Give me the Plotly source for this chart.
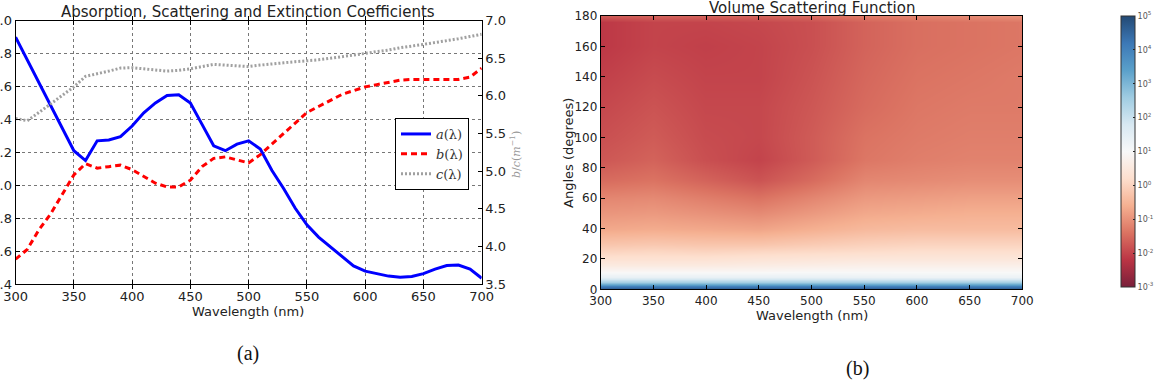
import plotly.graph_objects as go

W, H = 1160, 384

# ---------------- data: panel (a) ----------------
wavelength = [300, 310, 320, 330, 340, 350, 360, 370, 380, 390, 400, 410, 420, 430,
              440, 450, 460, 470, 480, 490, 500, 510, 520, 530, 540, 550, 560, 570,
              580, 590, 600, 610, 620, 630, 640, 650, 660, 670, 680, 690, 700]

a_wavelength = [300, 350, 360, 370, 380, 390, 400, 410, 420, 430, 440, 450, 460, 470,
                480, 490, 500, 510, 520, 530, 540, 550, 560, 570, 580, 590, 600, 610,
                620, 630, 640, 650, 660, 670, 680, 690, 700]
a_values = [1.90, 1.21, 1.15, 1.27, 1.275, 1.295, 1.36, 1.44, 1.50, 1.545, 1.55, 1.50,
            1.37, 1.24, 1.21, 1.25, 1.27, 1.22, 1.09, 0.98, 0.86, 0.76, 0.685, 0.625,
            0.565, 0.51, 0.478, 0.462, 0.448, 0.441, 0.446, 0.463, 0.49, 0.512, 0.515,
            0.49, 0.435]

b_values = [3.83, 3.96, 4.22, 4.43, 4.69, 4.95, 5.10, 5.04, 5.06, 5.08, 5.02, 4.93,
            4.84, 4.79, 4.79, 4.88, 5.06, 5.17, 5.19, 5.15, 5.11, 5.22, 5.36, 5.50,
            5.65, 5.78, 5.86, 5.94, 6.02, 6.07, 6.12, 6.15, 6.18, 6.21, 6.22, 6.22,
            6.21, 6.21, 6.22, 6.25, 6.37]

c_values = [5.70, 5.67, 5.78, 5.89, 6.01, 6.12, 6.26, 6.29, 6.33, 6.37, 6.375, 6.36,
            6.35, 6.33, 6.34, 6.36, 6.39, 6.42, 6.41, 6.395, 6.39, 6.41, 6.43, 6.44,
            6.455, 6.465, 6.48, 6.50, 6.52, 6.54, 6.565, 6.59, 6.61, 6.64, 6.66, 6.685,
            6.71, 6.73, 6.76, 6.79, 6.82]

series_names = ["<i>a</i>(λ)", "<i>b</i>(λ)", "<i>c</i>(λ)"]

x_ticks = [300, 350, 400, 450, 500, 550, 600, 650, 700]
left_yticks = [0.4, 0.6, 0.8, 1.0, 1.2, 1.4, 1.6, 1.8, 2.0]
right_yticks = [3.5, 4.0, 4.5, 5.0, 5.5, 6.0, 6.5, 7.0]

# ---------------- data: panel (b) ----------------
vsf_wavelength = [300, 350, 400, 450, 500, 550, 600, 650, 700]
vsf_angle = [0, 1, 2, 3, 5, 8, 12, 16, 20, 25, 30, 40, 50, 60, 72, 85, 100, 120, 140,
             160, 176, 180]
vsf_log10 = [
    [4.9, 4.9, 4.9, 4.9, 4.9, 4.9, 4.9, 4.9, 4.9],
    [4.5, 4.5, 4.5, 4.5, 4.5, 4.5, 4.5, 4.5, 4.5],
    [4.0, 4.0, 4.0, 4.0, 4.0, 4.0, 4.0, 4.0, 4.0],
    [3.5, 3.5, 3.5, 3.5, 3.5, 3.5, 3.5, 3.5, 3.5],
    [2.5, 2.5, 2.5, 2.5, 2.5, 2.5, 2.5, 2.5, 2.5],
    [1.4, 1.4, 1.4, 1.4, 1.4, 1.35, 1.3, 1.3, 1.3],
    [0.9, 0.9, 0.9, 0.9, 0.95, 0.95, 0.95, 0.95, 0.95],
    [0.55, 0.55, 0.55, 0.6, 0.65, 0.7, 0.7, 0.7, 0.7],
    [0.3, 0.3, 0.3, 0.35, 0.4, 0.45, 0.45, 0.45, 0.45],
    [0.0, 0.05, 0.0, 0.05, 0.1, 0.15, 0.2, 0.2, 0.2],
    [-0.25, -0.2, -0.25, -0.25, -0.15, -0.05, 0.0, 0.0, 0.0],
    [-0.7, -0.65, -0.7, -0.75, -0.6, -0.45, -0.4, -0.4, -0.4],
    [-0.95, -0.9, -1.0, -1.1, -0.9, -0.7, -0.65, -0.6, -0.6],
    [-1.15, -1.1, -1.25, -1.4, -1.15, -0.9, -0.85, -0.8, -0.8],
    [-1.5, -1.4, -1.6, -1.8, -1.5, -1.15, -1.1, -1.05, -1.05],
    [-1.75, -1.6, -1.85, -2.0, -1.7, -1.35, -1.25, -1.2, -1.2],
    [-1.85, -1.7, -1.9, -1.95, -1.7, -1.4, -1.3, -1.25, -1.25],
    [-1.95, -1.8, -1.95, -1.95, -1.75, -1.5, -1.35, -1.3, -1.3],
    [-2.05, -1.9, -2.0, -2.0, -1.8, -1.55, -1.4, -1.35, -1.3],
    [-2.15, -2.0, -2.05, -2.0, -1.85, -1.6, -1.45, -1.4, -1.35],
    [-2.15, -2.0, -2.0, -1.95, -1.85, -1.6, -1.45, -1.4, -1.35],
    [-1.7, -1.6, -1.6, -1.6, -1.5, -1.3, -1.2, -1.1, -1.0],
]
angle_ticks = [0, 20, 40, 60, 80, 100, 120, 140, 160, 180]
cb_tickvals = [-3, -2, -1, 0, 1, 2, 3, 4, 5]
cb_ticktext = ["10<sup>-3</sup>", "10<sup>-2</sup>", "10<sup>-1</sup>", "10<sup>0</sup>",
               "10<sup>1</sup>", "10<sup>2</sup>", "10<sup>3</sup>", "10<sup>4</sup>",
               "10<sup>5</sup>"]

rdbu_hex = ["#67001f", "#b2182b", "#d6604d", "#f4a582", "#fddbc7", "#f7f7f7",
            "#d1e5f0", "#92c5de", "#4393c3", "#2166ac", "#053061"]


def fade(hexcol, alpha=0.88):
    r, g, b = (int(hexcol[i:i + 2], 16) for i in (1, 3, 5))
    f = lambda c: round(alpha * c + (1 - alpha) * 255)
    return f"rgb({f(r)},{f(g)},{f(b)})"


colorscale = [[i / (len(rdbu_hex) - 1), fade(c)] for i, c in enumerate(rdbu_hex)]


def px(x):
    return x / W


def py(y):
    return 1 - y / H


FONT = "DejaVu Sans"
TXT = "#222"

fig = go.Figure()

fig.add_trace(go.Scatter(x=a_wavelength, y=a_values, name=series_names[0], mode="lines",
                         line=dict(color="#0000ff", width=3), xaxis="x", yaxis="y"))
fig.add_trace(go.Scatter(x=wavelength, y=b_values, name=series_names[1], mode="lines",
                         line=dict(color="#ff0000", width=3, dash="6px,4px"),
                         xaxis="x", yaxis="y2"))
fig.add_trace(go.Scatter(x=wavelength, y=c_values, name=series_names[2], mode="lines",
                         line=dict(color="#a0a0a0", width=3, dash="2px,2px"),
                         xaxis="x", yaxis="y2"))

fig.add_trace(go.Heatmap(
    x=vsf_wavelength, y=vsf_angle, z=vsf_log10, zmin=-3, zmax=5,
    colorscale=colorscale, zsmooth="best", xaxis="x2", yaxis="y3",
    colorbar=dict(
        x=px(1120.7), xanchor="left", xpad=0,
        y=py(151.5), yanchor="middle", ypad=0,
        len=271, lenmode="pixels", thickness=14, thicknessmode="pixels",
        outlinewidth=1, outlinecolor="#333",
        tickvals=cb_tickvals, ticktext=cb_ticktext,
        ticks="inside", ticklen=2, tickcolor="#222",
        tickfont=dict(family=FONT, size=8, color="#555"),
    ),
))

axis_common = dict(showline=True, linecolor="black", linewidth=1, ticks="inside",
                   ticklen=4, tickcolor="black", zeroline=False, automargin=False)

fig.update_layout(
    template="none",
    width=W, height=H,
    margin=dict(l=0, r=0, t=0, b=0),
    paper_bgcolor="white", plot_bgcolor="white",
    font=dict(family=FONT, color=TXT),
    xaxis=dict(domain=[px(15.6), px(481.7)], range=[300, 700], anchor="y",
               tickvals=x_ticks, mirror="allticks", showgrid=True, gridcolor="#777",
               griddash="dot", gridwidth=1, tickfont=dict(size=13, color=TXT),
               **axis_common),
    yaxis=dict(domain=[py(284), py(20.7)], range=[0.4, 2.0], anchor="x",
               tickvals=left_yticks, tickformat=".1f", mirror=True, showgrid=True,
               gridcolor="#777", griddash="dot", gridwidth=1,
               tickfont=dict(size=13, color=TXT), **axis_common),
    yaxis2=dict(overlaying="y", side="right", anchor="x", range=[3.5, 7.0],
                tickvals=right_yticks, tickformat=".1f", showgrid=False,
                tickfont=dict(size=13, color=TXT), **axis_common),
    xaxis2=dict(domain=[px(600.7), px(1022.3)], range=[300, 700], anchor="y3",
                tickvals=x_ticks, mirror="allticks", showgrid=False,
                tickfont=dict(size=12, color=TXT), **axis_common),
    yaxis3=dict(domain=[py(289.3), py(16)], range=[0, 180], anchor="x2",
                tickvals=angle_ticks, mirror="allticks", showgrid=False,
                tickfont=dict(size=12, color=TXT), **axis_common),
    legend=dict(x=px(395), y=py(118), xanchor="left", yanchor="top",
                bgcolor="white", bordercolor="black", borderwidth=1,
                font=dict(family="DejaVu Serif", size=13, color="#333"),
                itemwidth=30, tracegroupgap=0),
    showlegend=True,
)

annotations = [
    dict(text="Absorption, Scattering and Extinction Coefficients", x=px(248), y=py(12),
         font=dict(size=15, color=TXT)),
    dict(text="Wavelength (nm)", x=px(248), y=py(311), font=dict(size=13, color=TXT)),
    dict(text="<i>b</i>/<i>c</i>(<i>m</i><sup>−1</sup>)", x=px(516), y=py(155),
         textangle=-90, font=dict(family="DejaVu Serif", size=11, color="#999")),
    dict(text="Volume Scattering Function", x=px(812), y=py(8),
         font=dict(size=15, color=TXT)),
    dict(text="Wavelength (nm)", x=px(812), y=py(315), font=dict(size=13, color=TXT)),
    dict(text="Angles (degrees)", x=px(568), y=py(153), textangle=-90,
         font=dict(size=13, color=TXT)),
    dict(text="(a)", x=px(248), y=py(353),
         font=dict(family="Liberation Serif", size=20, color="#111")),
    dict(text="(b)", x=px(857), y=py(368),
         font=dict(family="Liberation Serif", size=20, color="#111")),
]
for a in annotations:
    a.update(xref="paper", yref="paper", xanchor="center", yanchor="middle",
             showarrow=False)
fig.update_layout(annotations=annotations)

fig.write_html("out.html")
